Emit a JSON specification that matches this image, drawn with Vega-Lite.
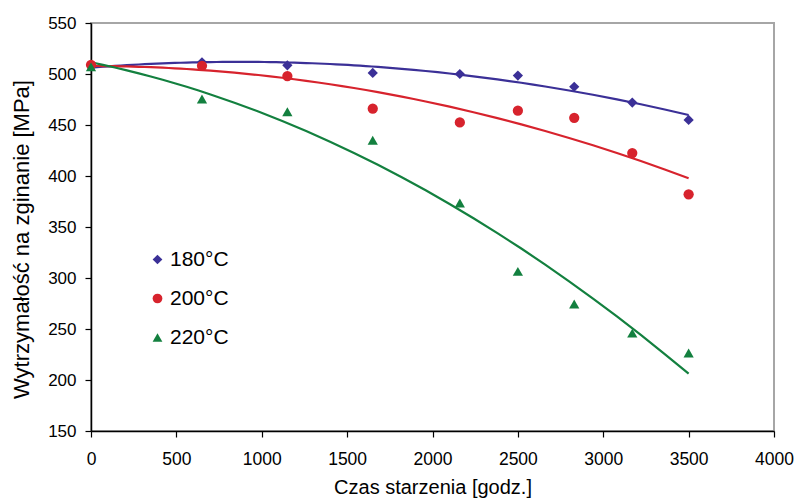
{
  "$schema": "https://vega.github.io/schema/vega-lite/v6.json",
  "autosize": "none",
  "padding": {"left": 91, "top": 23, "right": 22, "bottom": 69},
  "width": 683,
  "height": 408,
  "background": "white",
  "config": {
    "font": "Liberation Sans",
    "view": {"stroke": "#A6A6A6", "strokeWidth": 2}
  },
  "data": {"values": [
    {"t": 0, "s": 508.5, "series": "180°C"},
    {"t": 650, "s": 511.5, "series": "180°C"},
    {"t": 1150, "s": 508.5, "series": "180°C"},
    {"t": 1650, "s": 501, "series": "180°C"},
    {"t": 2160, "s": 500, "series": "180°C"},
    {"t": 2500, "s": 498.5, "series": "180°C"},
    {"t": 2830, "s": 487.5, "series": "180°C"},
    {"t": 3170, "s": 472, "series": "180°C"},
    {"t": 3500, "s": 455, "series": "180°C"},
    {"t": 0, "s": 509, "series": "200°C"},
    {"t": 650, "s": 508, "series": "200°C"},
    {"t": 1150, "s": 498, "series": "200°C"},
    {"t": 1650, "s": 466, "series": "200°C"},
    {"t": 2160, "s": 452.5, "series": "200°C"},
    {"t": 2500, "s": 464, "series": "200°C"},
    {"t": 2830, "s": 457, "series": "200°C"},
    {"t": 3170, "s": 422.5, "series": "200°C"},
    {"t": 3500, "s": 382, "series": "200°C"},
    {"t": 0, "s": 507, "series": "220°C"},
    {"t": 650, "s": 475.5, "series": "220°C"},
    {"t": 1150, "s": 463, "series": "220°C"},
    {"t": 1650, "s": 435, "series": "220°C"},
    {"t": 2160, "s": 373.5, "series": "220°C"},
    {"t": 2500, "s": 306.5, "series": "220°C"},
    {"t": 2830, "s": 274.5, "series": "220°C"},
    {"t": 3170, "s": 246, "series": "220°C"},
    {"t": 3500, "s": 226.5, "series": "220°C"}
  ]},
  "layer": [
    {
      "transform": [{"filter": "datum.series === '180°C'"}, {"regression": "s", "on": "t", "method": "poly", "order": 2, "extent": [0, 3500]}],
      "mark": {"type": "line", "strokeWidth": 2.2, "color": "#3B3097"},
      "encoding": {
        "x": {"field": "t", "type": "quantitative"},
        "y": {"field": "s", "type": "quantitative"}
      }
    },
    {
      "transform": [{"filter": "datum.series === '200°C'"}, {"regression": "s", "on": "t", "method": "poly", "order": 2, "extent": [0, 3500]}],
      "mark": {"type": "line", "strokeWidth": 2.2, "color": "#D7232D"},
      "encoding": {
        "x": {"field": "t", "type": "quantitative"},
        "y": {"field": "s", "type": "quantitative"}
      }
    },
    {
      "transform": [{"filter": "datum.series === '220°C'"}, {"regression": "s", "on": "t", "method": "poly", "order": 2, "extent": [0, 3500]}],
      "mark": {"type": "line", "strokeWidth": 2.2, "color": "#13803F"},
      "encoding": {
        "x": {"field": "t", "type": "quantitative"},
        "y": {"field": "s", "type": "quantitative"}
      }
    },
    {
      "mark": {"type": "point", "filled": true, "opacity": 1, "size": 105},
      "encoding": {
        "x": {"field": "t", "type": "quantitative", "scale": {"domain": [0, 4000], "nice": false}, "axis": {"values": [0, 500, 1000, 1500, 2000, 2500, 3000, 3500, 4000], "format": "d", "grid": false, "labelFlush": false, "domainColor": "#000000", "domainWidth": 1.5, "tickColor": "#000000", "tickWidth": 1.2, "tickSize": 6, "labelFont": "Liberation Sans", "labelFontSize": 17.5, "labelColor": "#000000", "title": "Czas starzenia [godz.]", "titleFont": "Liberation Sans", "titleFontSize": 20, "titleFontWeight": "normal", "titleColor": "#000000", "labelPadding": 13, "titlePadding": 10}},
        "y": {"field": "s", "type": "quantitative", "scale": {"domain": [150, 550], "nice": false, "zero": false}, "axis": {"values": [150, 200, 250, 300, 350, 400, 450, 500, 550], "format": "d", "grid": false, "labelFlush": false, "domainColor": "#000000", "domainWidth": 1.5, "tickColor": "#000000", "tickWidth": 1.2, "tickSize": 6, "labelFont": "Liberation Sans", "labelFontSize": 17, "labelColor": "#000000", "title": "Wytrzymałość na zginanie [MPa]", "titleFont": "Liberation Sans", "titleFontSize": 22, "titleFontWeight": "normal", "titleColor": "#000000", "labelPadding": 9, "titlePadding": 14, "titleY": 216}},
        "color": {"field": "series", "type": "nominal", "scale": {"domain": ["180°C", "200°C", "220°C"], "range": ["#3B3097", "#D7232D", "#13803F"]}, "legend": {"title": null, "orient": "none", "legendX": 56, "legendY": 226, "labelFontSize": 21, "labelFont": "Liberation Sans", "labelColor": "#000000", "symbolSize": 95, "rowPadding": 17, "labelOffset": 2}},
        "shape": {"field": "series", "type": "nominal", "scale": {"domain": ["180°C", "200°C", "220°C"], "range": ["diamond", "circle", "triangle-up"]}, "legend": {"title": null, "orient": "none", "legendX": 56, "legendY": 226, "labelFontSize": 21, "labelFont": "Liberation Sans", "labelColor": "#000000", "symbolSize": 95, "rowPadding": 17, "labelOffset": 2}}
      }
    }
  ]
}
